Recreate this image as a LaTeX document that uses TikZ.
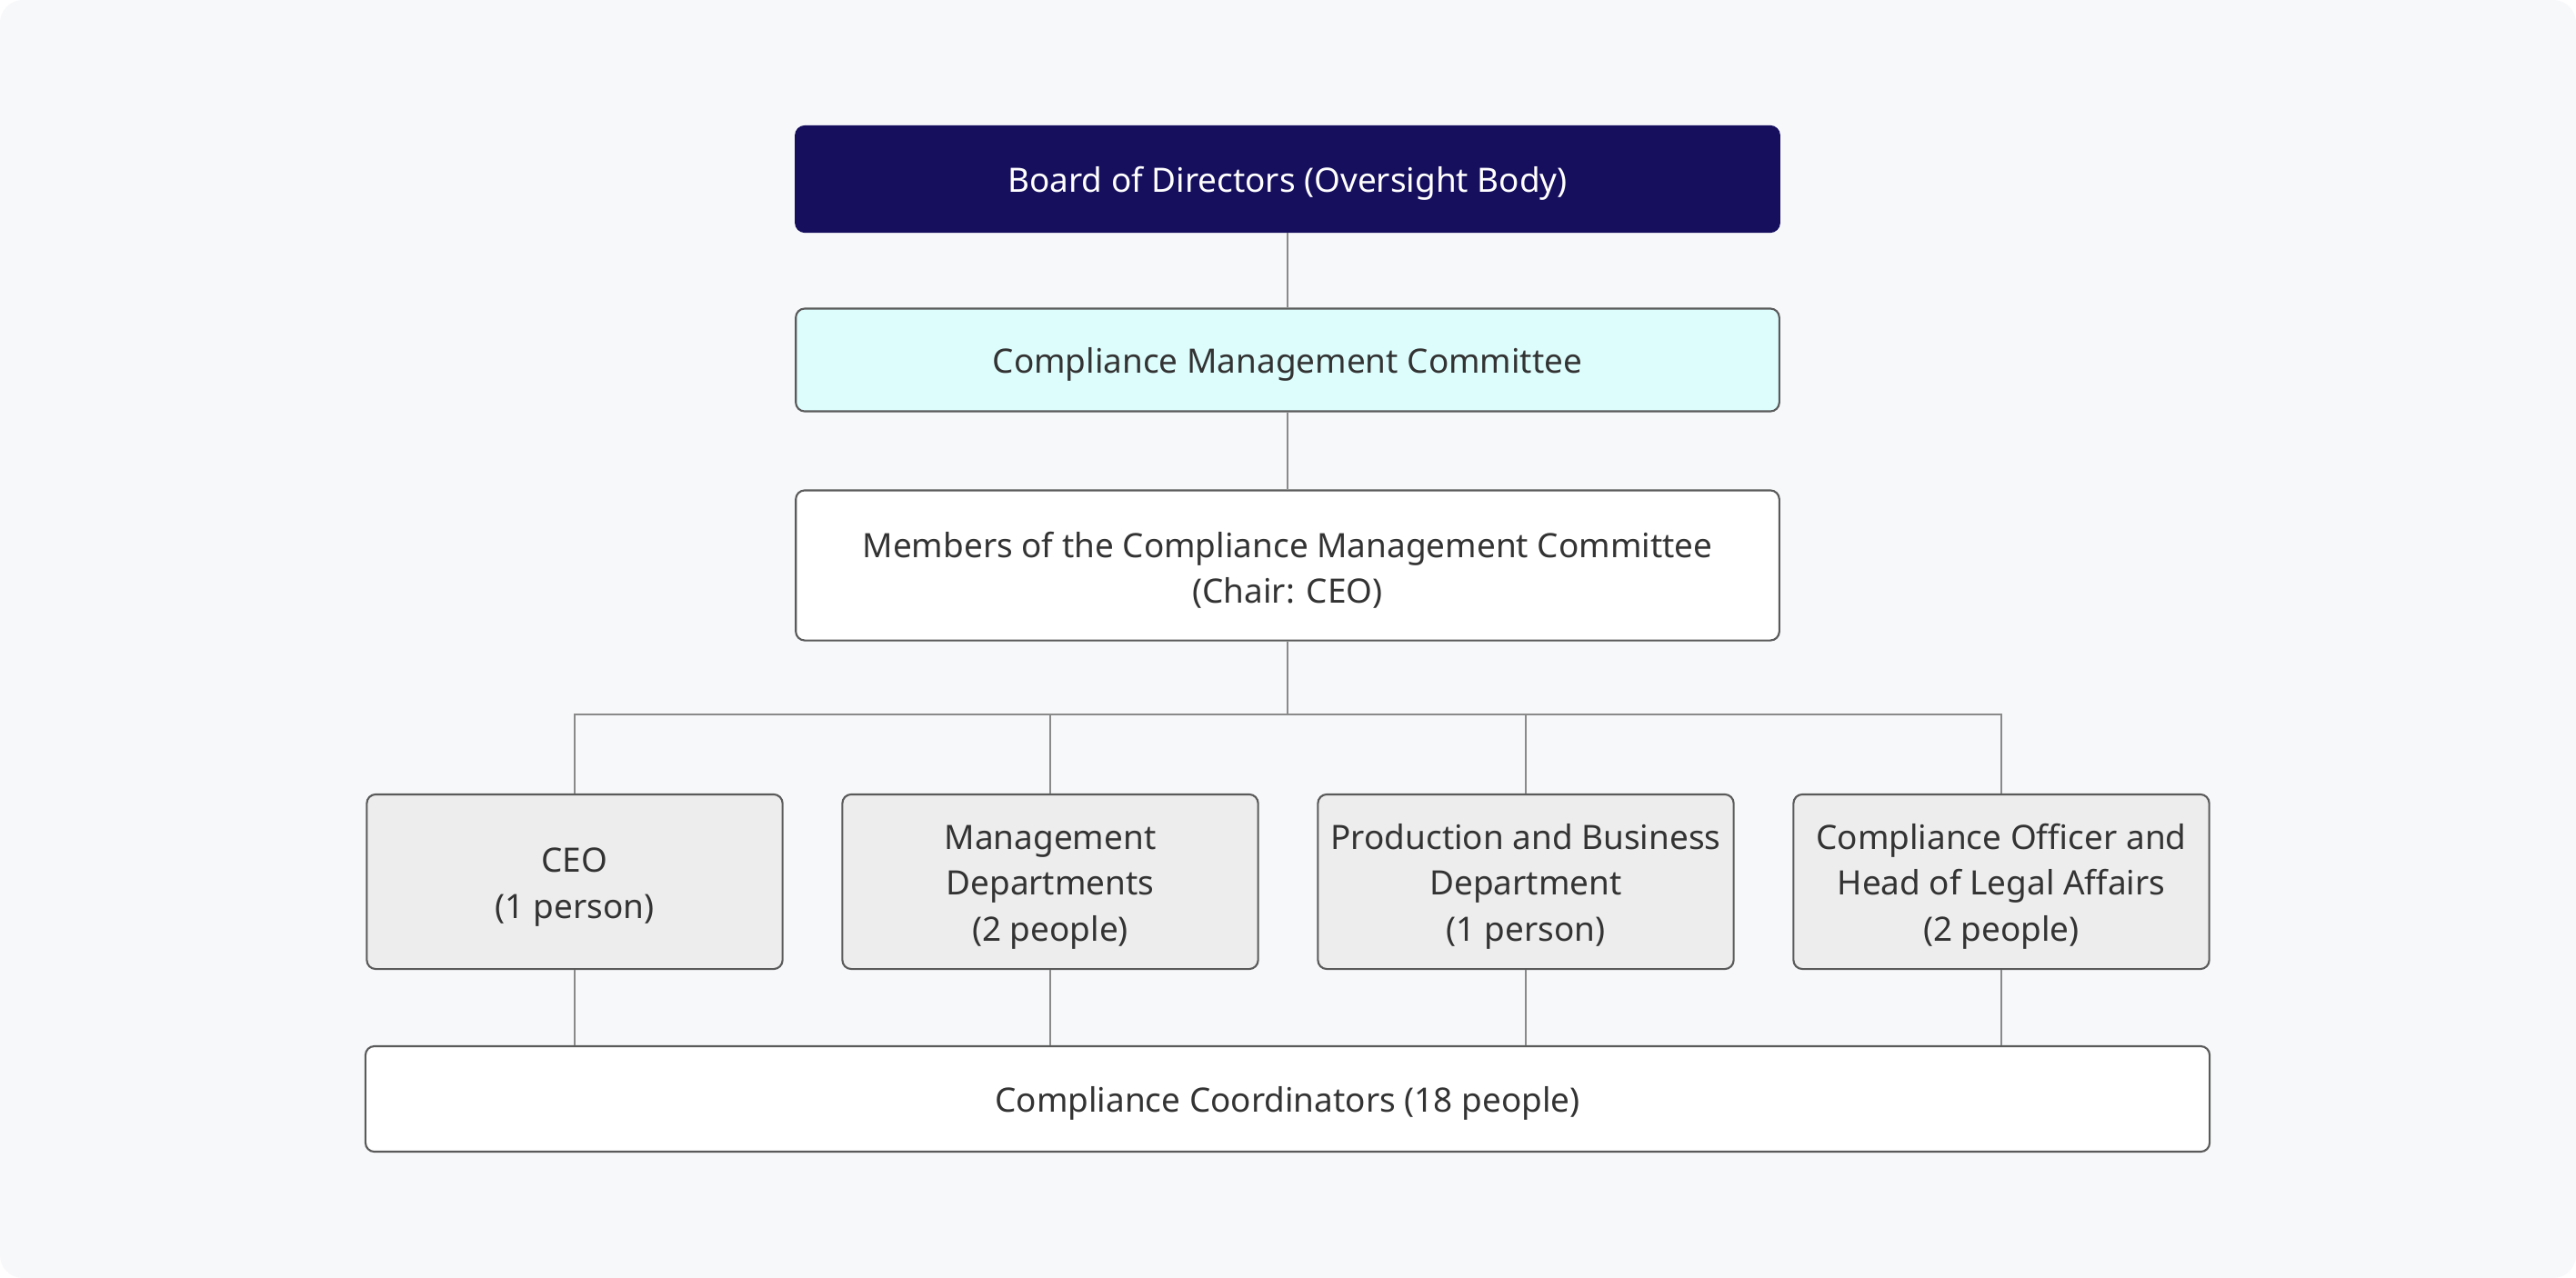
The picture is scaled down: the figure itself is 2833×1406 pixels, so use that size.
\documentclass[tikz,border=0pt]{standalone}
\usepackage{fontspec}
\setmainfont{Noto Sans}
\definecolor{bgc}{HTML}{F7F8FA}
\definecolor{navy}{HTML}{160F5E}
\definecolor{cyanf}{HTML}{DDFDFD}
\definecolor{grayf}{HTML}{EDEDED}
\definecolor{bord}{HTML}{5A5A5A}
\definecolor{linec}{HTML}{8A8A8A}
\definecolor{txt}{HTML}{333333}
\newcommand{\lowr}{\rule{0pt}{11pt}}
\begin{document}
\begin{tikzpicture}[x=0.01cm,y=-0.01cm,
  box/.style={draw=bord,line width=0.6pt,rounded corners=2.8pt,align=center,
    text=txt,font=\fontsize{10.5}{14.4}\selectfont,inner sep=0pt},
  wide/.style={box,minimum width=10.81cm},
  dept/.style={box,fill=grayf,minimum width=4.57cm,minimum height=1.92cm},
  conn/.style={draw=linec,line width=0.6pt}]
\fill[bgc,rounded corners=0.25cm] (0,0) rectangle (2833,1406);
\useasboundingbox (0,0) rectangle (2833,1406);
\node[wide,fill=navy,draw=navy,text=white,minimum height=1.16cm] (board) at (1416,197) {\lowr Board of Directors (Oversight Body)};
\node[wide,fill=cyanf,minimum height=1.13cm] (comm) at (1416,396) {\lowr Compliance Management Committee};
\node[wide,fill=white,minimum height=1.65cm] (members) at (1416,622) {\lowr Members of the Compliance Management Committee\\(Chair: CEO)};
\coordinate (bus) at (1416,786);
\node[dept] (ceo) at (632,970) {\lowr CEO\\(1 person)};
\node[dept] (mgmt) at (1155,970) {\lowr Management\\Departments\\(2 people)};
\node[dept] (prod) at (1678,970) {\lowr Production and Business\\Department\\(1 person)};
\node[dept] (legal) at (2201,970) {\lowr Compliance Officer and\\Head of Legal Affairs\\(2 people)};
\node[box,fill=white,minimum width=20.27cm,minimum height=1.16cm] (coord) at (1416,1209) {\lowr Compliance Coordinators (18 people)};
\path[conn] (board) -- (comm);
\path[conn] (comm) -- (members);
\path[conn] (members) -- (bus);
\path[conn] (ceo.north) |- (bus) -| (legal.north);
\path[conn] (mgmt.north) -- (mgmt.north |- bus);
\path[conn] (prod.north) -- (prod.north |- bus);
\foreach \n in {ceo,mgmt,prod,legal}{
  \path[conn] (\n.south) -- (\n.south |- coord.north);
}
\end{tikzpicture}
\end{document}
